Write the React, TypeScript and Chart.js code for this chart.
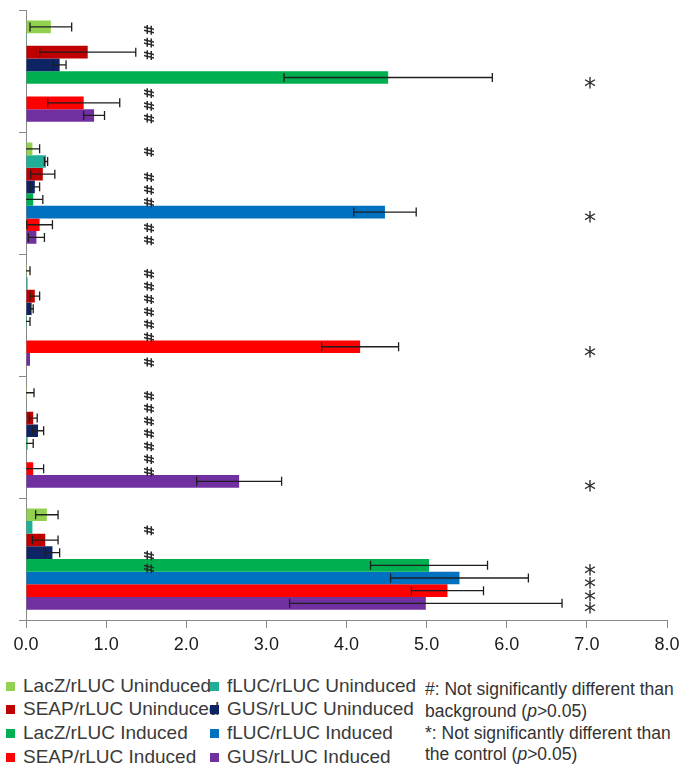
import React, { useEffect, useRef } from 'react';
import { Chart, registerables } from 'chart.js';

Chart.register(...registerables);

// ---------- data ----------
const groups = ['LacZ', 'fLUC', 'SEAP', 'GUS', 'All'];
const xTickLabels = ['0.0', '1.0', '2.0', '3.0', '4.0', '5.0', '6.0', '7.0', '8.0'];

const seriesNames = [
  'LacZ/rLUC Uninduced',
  'fLUC/rLUC Uninduced',
  'SEAP/rLUC Uninduced',
  'GUS/rLUC Uninduced',
  'LacZ/rLUC Induced',
  'fLUC/rLUC Induced',
  'SEAP/rLUC Induced',
  'GUS/rLUC Induced',
];
const seriesColors = ['#92D050', '#1FAF98', '#C00000', '#0F2465', '#00B050', '#0070C0', '#FF0000', '#7030A0'];

const lacZUninduced = [0.31, 0.08, 0.01, 0.01, 0.26];
const fLUCUninduced = [0.01, 0.25, 0.02, 0.005, 0.08];
const seapUninduced = [0.77, 0.21, 0.11, 0.09, 0.24];
const gusUninduced = [0.42, 0.11, 0.07, 0.15, 0.33];
const lacZInduced = [4.52, 0.09, 0.01, 0.02, 5.03];
const fLUCInduced = [0.0, 4.48, 0.0, 0.0, 5.41];
const seapInduced = [0.72, 0.17, 4.17, 0.09, 5.26];
const gusInduced = [0.85, 0.13, 0.05, 2.66, 4.99];

const lacZUninducedErr = [0.26, 0.09, 0.04, 0.09, 0.14];
const fLUCUninducedErr = [0.0, 0.02, 0.0, 0.0, 0.0];
const seapUninducedErr = [0.6, 0.15, 0.06, 0.05, 0.16];
const gusUninducedErr = [0.08, 0.06, 0.02, 0.07, 0.09];
const lacZInducedErr = [1.3, 0.12, 0.04, 0.07, 0.73];
const fLUCInducedErr = [0.0, 0.39, 0.0, 0.0, 0.86];
const seapInducedErr = [0.45, 0.16, 0.48, 0.13, 0.45];
const gusInducedErr = [0.13, 0.1, 0.0, 0.53, 1.7];

// significance marks: series indices per group
const hashMarks = [
  [0, 1, 2, 5, 6, 7],
  [0, 2, 3, 4, 6, 7],
  [0, 1, 2, 3, 4, 5, 7],
  [0, 1, 2, 3, 4, 5, 6],
  [1, 3, 4],
];
const starMarks = [[4], [5], [6], [7], [4, 5, 6, 7]];
const hashValue = 1.52;
const starValue = 7.04;

const notes = [
  ['#: Not significantly different than', 'background (', 'p', '>0.05)'],
  ['*: Not significantly different than', 'the control (', 'p', '>0.05)'],
];

const seriesValues = [lacZUninduced, fLUCUninduced, seapUninduced, gusUninduced, lacZInduced, fLUCInduced, seapInduced, gusInduced];
const seriesErrors = [lacZUninducedErr, fLUCUninducedErr, seapUninducedErr, gusUninducedErr, lacZInducedErr, fLUCInducedErr, seapInducedErr, gusInducedErr];

const marksPlugin = {
  id: 'marks',
  afterDatasetsDraw(chart: any) {
    const ctx = chart.ctx;
    const xs = chart.scales.x;
    ctx.save();
    // error bars
    ctx.strokeStyle = '#1e1e1e';
    ctx.lineWidth = 1.3;
    seriesValues.forEach((vals, d) => {
      const meta = chart.getDatasetMeta(d);
      vals.forEach((v, i) => {
        const e = seriesErrors[d][i];
        if (!e) return;
        const y = meta.data[i].y;
        const loV = v - e;
        const lo = xs.getPixelForValue(Math.max(0, loV));
        const hi = xs.getPixelForValue(v + e);
        ctx.beginPath();
        ctx.moveTo(lo, y);
        ctx.lineTo(hi, y);
        ctx.moveTo(hi, y - 4.5);
        ctx.lineTo(hi, y + 4.5);
        if (loV > 0) {
          ctx.moveTo(lo, y - 4.5);
          ctx.lineTo(lo, y + 4.5);
        }
        ctx.stroke();
      });
    });
    // hash marks
    ctx.fillStyle = '#2a2a2a';
    ctx.font = 'bold 14px "DejaVu Sans"';
    ctx.textAlign = 'center';
    ctx.textBaseline = 'middle';
    const hx = xs.getPixelForValue(hashValue);
    hashMarks.forEach((list, g) => {
      list.forEach((d) => {
        const y = chart.getDatasetMeta(d).data[g].y + 3;
        ctx.save();
        ctx.translate(hx, y);
        ctx.rotate(Math.PI / 2);
        ctx.fillText('#', 0, 0);
        ctx.restore();
      });
    });
    // stars
    ctx.font = '24px "DejaVu Sans"';
    ctx.textBaseline = 'alphabetic';
    const m = ctx.measureText('*');
    const off = (m.actualBoundingBoxAscent - m.actualBoundingBoxDescent) / 2;
    const sx = xs.getPixelForValue(starValue);
    starMarks.forEach((list, g) => {
      list.forEach((d) => {
        const y = chart.getDatasetMeta(d).data[g].y + 5;
        ctx.fillText('*', sx, y + off);
      });
    });
    ctx.restore();
  },
};

export default function App() {
  const ref = useRef<HTMLCanvasElement | null>(null);

  useEffect(() => {
    if (!ref.current) return;
    const chart = new Chart(ref.current, {
      type: 'bar',
      data: {
        labels: groups,
        datasets: seriesNames.map((name, d) => ({
          label: name,
          data: seriesValues[d],
          backgroundColor: seriesColors[d],
          borderWidth: 0,
          categoryPercentage: 0.83,
          barPercentage: 1.0,
        })),
      },
      options: {
        indexAxis: 'y',
        responsive: false,
        animation: false,
        devicePixelRatio: 1,
        layout: { padding: { top: 7, right: 32, left: 0, bottom: 0 } },
        plugins: { legend: { display: false }, tooltip: { enabled: false } },
        scales: {
          x: {
            type: 'linear',
            min: 0,
            max: 8,
            ticks: {
              stepSize: 1,
              callback: (_v: any, i: number) => xTickLabels[i],
              font: { family: 'Liberation Sans', size: 18 },
              color: '#1a1a1a',
              padding: 6,
            },
            grid: { drawOnChartArea: false, drawTicks: true, tickLength: 8, color: '#888' },
            border: { color: '#888', width: 1 },
            afterFit: (s: any) => {
              s.height = 45;
            },
          },
          y: {
            ticks: { callback: () => '' },
            grid: { drawOnChartArea: false, tickLength: 7, color: '#888', offset: true },
            border: { color: '#888', width: 1 },
            afterFit: (s: any) => {
              s.width = 26;
            },
          },
        },
      } as any,
      plugins: [marksPlugin],
    });
    return () => chart.destroy();
  }, []);

  const rowCenters = [686, 709, 733, 757];
  const noteCenters = [689, 711, 733, 754];
  const noteLines = [
    <span>{notes[0][0]}</span>,
    <span>
      {notes[0][1]}
      <i>{notes[0][2]}</i>
      {notes[0][3]}
    </span>,
    <span>{notes[1][0]}</span>,
    <span>
      {notes[1][1]}
      <i>{notes[1][2]}</i>
      {notes[1][3]}
    </span>,
  ];

  return (
    <div style={{ position: 'absolute', left: 0, top: 0, width: 699, height: 773, background: '#fff', overflow: 'hidden' }}>
      <canvas ref={ref} width={699} height={665} style={{ position: 'absolute', left: 0, top: 0, width: 699, height: 665 }} />
      {seriesNames.map((name, d) => {
        const col = d % 2;
        const row = Math.floor(d / 2);
        const left = col === 0 ? 6 : 210;
        const cy = rowCenters[row];
        return (
          <React.Fragment key={name}>
            <div style={{ position: 'absolute', left, top: cy - 4, width: 9, height: 9, background: seriesColors[d] }} />
            <div
              style={{
                position: 'absolute',
                left: left + 17,
                top: cy - 12,
                height: 24,
                lineHeight: '24px',
                fontFamily: '"Liberation Sans", Arial, sans-serif',
                fontSize: 19,
                color: '#3a3a3a',
                whiteSpace: 'nowrap',
              }}
            >
              {name}
            </div>
          </React.Fragment>
        );
      })}
      {noteLines.map((ln, i) => (
        <div
          key={i}
          style={{
            position: 'absolute',
            left: 425,
            top: noteCenters[i] - 11,
            height: 22,
            lineHeight: '22px',
            fontFamily: '"Liberation Sans", Arial, sans-serif',
            fontSize: 17.5,
            color: '#333',
            whiteSpace: 'nowrap',
          }}
        >
          {ln}
        </div>
      ))}
    </div>
  );
}
